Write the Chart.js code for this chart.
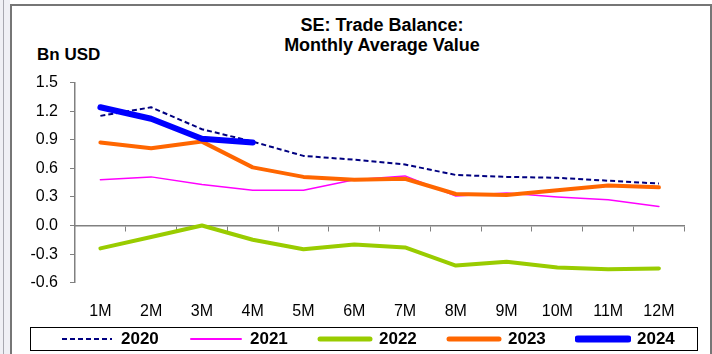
<!DOCTYPE html>
<html>
<head>
<meta charset="utf-8">
<script src="https://cdn.jsdelivr.net/npm/chart.js@4/dist/chart.umd.min.js"></script>
<style>
  html, body { margin: 0; padding: 0; background: #fff; }
  body { width: 712px; height: 354px; position: relative; overflow: hidden;
         font-family: 'Liberation Sans', Arial, sans-serif; }
  .strip { position: absolute; left: 0; top: 0; width: 10px; height: 354px; background: #f0f0f5; }
  .strip-line { position: absolute; left: 3px; top: 0; width: 1px; height: 354px; background: #a8a8b0; }
  .frame { position: absolute; left: 10px; top: 4px; width: 698px; height: 360px;
           border: 2px solid #767676; border-bottom: none; }
  #chart { position: absolute; left: 0; top: 0; }
  .title { position: absolute; left: 75px; width: 614px; top: 15px; text-align: center;
           font-weight: bold; font-size: 18px; line-height: 20px; color: #000; }
  .unit { position: absolute; left: 37px; top: 46px; font-weight: bold; font-size: 17px;
          line-height: 17px; color: #000; }
  .legend { position: absolute; left: 30px; top: 327px; width: 666px; height: 22px;
            border: 1px solid #000; }
  .legend-item { position: absolute; top: 0; height: 22px; display: flex; align-items: center; }
  .legend-item span { font-weight: bold; font-size: 17px; margin-left: 6px; color: #000; }
</style>
</head>
<body>
<div class="strip"></div>
<div class="strip-line"></div>
<div class="frame"></div>
<div class="title">SE: Trade Balance:<br>Monthly Average Value</div>
<div class="unit">Bn USD</div>
<canvas id="chart" width="712" height="354"></canvas>
<div class="legend" id="legend"></div>
<script>
const months = ['1M', '2M', '3M', '4M', '5M', '6M', '7M', '8M', '9M', '10M', '11M', '12M'];
const years = ['2020', '2021', '2022', '2023', '2024'];
const yTicks = [-0.6, -0.3, 0.0, 0.3, 0.6, 0.9, 1.2, 1.5];

const tb2020 = [1.15, 1.24, 1.01, 0.88, 0.73, 0.69, 0.64, 0.53, 0.51, 0.50, 0.47, 0.44];
const tb2021 = [0.48, 0.51, 0.43, 0.37, 0.37, 0.48, 0.52, 0.31, 0.34, 0.30, 0.27, 0.20];
const tb2022 = [-0.24, -0.12, 0.00, -0.15, -0.25, -0.20, -0.23, -0.42, -0.38, -0.44, -0.46, -0.45];
const tb2023 = [0.87, 0.81, 0.88, 0.61, 0.51, 0.48, 0.49, 0.33, 0.32, 0.37, 0.42, 0.40];
const tb2024 = [1.24, 1.12, 0.91, 0.87];

const seriesValues = [tb2020, tb2021, tb2022, tb2023, tb2024];
const seriesStyles = [
  { color: '#000080', width: 2, dash: [5, 3], legendWidth: 2 },
  { color: '#ff00ff', width: 1.5, dash: [], legendWidth: 2 },
  { color: '#99cc00', width: 4, dash: [], legendWidth: 5 },
  { color: '#ff6600', width: 4, dash: [], legendWidth: 5 },
  { color: '#0000ff', width: 6, dash: [], legendWidth: 7 },
];

const axisGrey = '#808080';
const font = 'Liberation Sans';

const datasets = years.map((year, i) => ({
  label: year,
  data: seriesValues[i],
  borderColor: seriesStyles[i].color,
  backgroundColor: seriesStyles[i].color,
  borderWidth: seriesStyles[i].width,
  borderDash: seriesStyles[i].dash,
  borderCapStyle: seriesStyles[i].dash.length ? 'butt' : 'round',
  borderJoinStyle: 'round',
  pointRadius: 0,
  tension: 0,
  fill: false,
  // later years painted on top
  order: years.length - i,
}));

const chart = new Chart(document.getElementById('chart'), {
  type: 'line',
  data: { labels: months, datasets },
  options: {
    responsive: false,
    animation: false,
    layout: { padding: { top: 82.5, right: 27.7, bottom: 0, left: 0 } },
    plugins: { legend: { display: false }, tooltip: { enabled: false }, title: { display: false } },
    scales: {
      x: {
        type: 'category',
        position: 'bottom',
        offset: true,
        grid: { display: false },
        border: { display: false },
        ticks: { color: '#000', font: { family: font, size: 16 }, padding: 11, maxRotation: 0, autoSkip: false },
        afterFit: (scale) => { scale.height = 71.3; },
      },
      xZero: {
        type: 'category',
        position: { y: 0 },
        offset: true,
        grid: { display: true, drawOnChartArea: false, drawTicks: true, tickLength: 5, offset: true, color: axisGrey },
        border: { display: true, color: axisGrey, width: 1.5 },
        ticks: { display: false },
      },
      y: {
        position: 'left',
        min: -0.6,
        max: 1.5,
        afterBuildTicks: (scale) => { scale.ticks = yTicks.map(v => ({ value: v })); },
        grid: { display: true, drawOnChartArea: false, drawTicks: true, tickLength: 5, color: axisGrey },
        border: { display: true, color: axisGrey, width: 1.5 },
        ticks: {
          color: '#000',
          font: { family: font, size: 16 },
          padding: 12,
          callback: (v) => Number(v).toFixed(1),
        },
        afterFit: (scale) => { scale.width = 75; },
      },
    },
  },
});

// legend row built from the chart's own dataset styles
const legend = document.getElementById('legend');
chart.data.datasets.forEach((ds, i) => {
  const st = seriesStyles[i];
  const item = document.createElement('div');
  item.className = 'legend-item';
  item.style.left = (28 + i * 129) + 'px';
  const dash = st.dash.length ? `stroke-dasharray="${st.dash.join(',')}"` : '';
  const cap = st.dash.length ? 'butt' : 'round';
  item.innerHTML =
    `<svg width="56" height="12"><line x1="3" y1="6" x2="53" y2="6" stroke="${ds.borderColor}" ` +
    `stroke-width="${st.legendWidth}" stroke-linecap="${cap}" ${dash}/></svg><span>${ds.label}</span>`;
  legend.appendChild(item);
});
</script>
</body>
</html>
